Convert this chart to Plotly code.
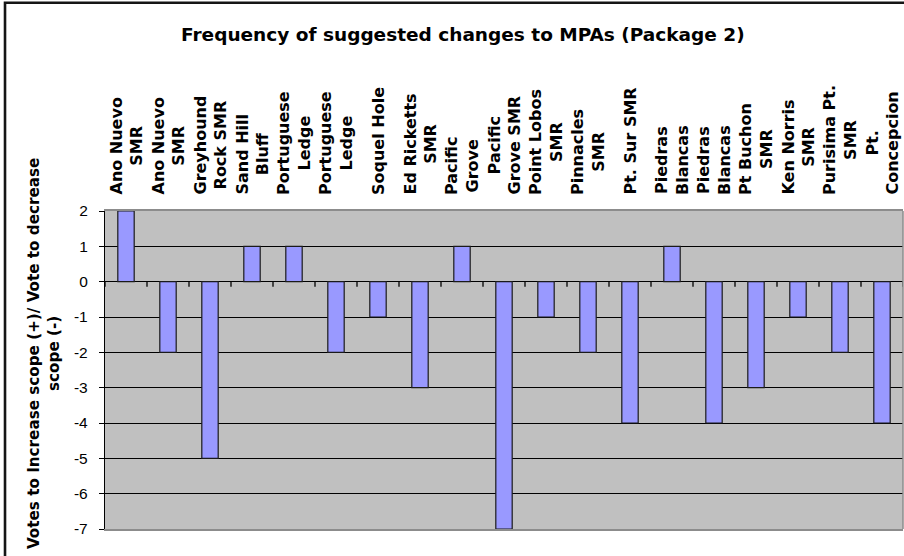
import plotly.graph_objects as go

categories = [
    "Ano Nuevo<br>SMR", "Ano Nuevo<br>SMR", "Greyhound<br>Rock SMR", "Sand Hill<br>Bluff",
    "Portuguese<br>Ledge", "Portuguese<br>Ledge", "Soquel Hole", "Ed Ricketts<br>SMR",
    "Pacific<br>Grove", "Pacific<br>Grove SMR", "Point Lobos<br>SMR", "Pinnacles<br>SMR",
    "Pt. Sur SMR", "Piedras<br>Blancas", "Piedras<br>Blancas", "Pt Buchon<br>SMR",
    "Ken Norris<br>SMR", "Purisima Pt.<br>SMR", "Pt.<br>Concepcion",
]
votes = [2, -2, -5, 1, 1, -2, -1, -3, 1, -7, -1, -2, -4, 1, -4, -3, -1, -2, -4]
y_ticks = [-7, -6, -5, -4, -3, -2, -1, 0, 1, 2]

title_text = "Frequency of suggested changes to MPAs (Package 2)"
y_title = "Votes to Increase scope (+)/ Vote to decrease<br>scope (-)"

BOLD = dict(family="DejaVu Sans", color="black", weight="bold")
idx = list(range(len(categories)))

fig = go.Figure()
fig.add_trace(go.Bar(
    x=idx, y=votes,
    marker=dict(color="#9999FF", line=dict(color="#1a1a1a", width=1.2)),
    width=0.39,
    hoverinfo="skip",
))

# category labels above the plot area
for i, lab in zip(idx, categories):
    fig.add_annotation(
        x=i, xref="x", y=1, yref="paper", yanchor="bottom", xanchor="center",
        yshift=14, text=lab, textangle=-90, showarrow=False, align="center",
        font=dict(size=16, **BOLD),
    )

# y-axis title
fig.add_annotation(
    x=0, xref="paper", xshift=-61, xanchor="center",
    y=0.55, yref="paper", yanchor="middle",
    text=y_title, textangle=-90, showarrow=False, align="center",
    font=dict(size=15.2, **BOLD),
)

shapes = []
# tick marks along the zero line at category boundaries
for b in range(len(categories) + 1):
    shapes.append(dict(
        type="line", xref="x", x0=b - 0.5, x1=b - 0.5,
        yref="y", ysizemode="pixel", yanchor=0, y0=0, y1=-5,
        line=dict(color="black", width=1.3),
    ))
# right border of plot area
shapes.append(dict(type="line", xref="paper", yref="paper", x0=1, x1=1, y0=0, y1=1,
                   line=dict(color="#8c8c8c", width=1.5)))
# chart area border
shapes.append(dict(type="rect", xref="paper", yref="paper",
                   x0=-0.1253, x1=1.02, y0=-0.15, y1=1.655,
                   line=dict(color="#151515", width=2.6), fillcolor="rgba(0,0,0,0)",
                   layer="above"))

fig.update_layout(
    width=904, height=556,
    margin=dict(l=105, r=1, t=211, b=27),
    paper_bgcolor="white",
    plot_bgcolor="#C0C0C0",
    showlegend=False,
    title=dict(text=title_text, x=0.512, xanchor="center", y=1 - 35 / 556,
               yanchor="middle", font=dict(size=18.5, **BOLD)),
    xaxis=dict(range=[-0.5, len(categories) - 0.5], showticklabels=False,
               showgrid=False, zeroline=False, ticks="",
               showline=True, linecolor="#8c8c8c", linewidth=1.5, mirror=True),
    yaxis=dict(range=[-7, 2], tickvals=y_ticks, ticktext=[str(v) for v in y_ticks],
               showgrid=True, gridcolor="black", gridwidth=1,
               zeroline=False, showline=True, linecolor="black", linewidth=1.3,
               ticks="outside", ticklen=5, tickcolor="black", tickwidth=1.3,
               ticklabelstandoff=8,
               tickfont=dict(family="Liberation Sans", size=15.5, color="black")),
    shapes=shapes,
)

fig.write_html("out.html", config={"displayModeBar": False},
               post_script="document.body.style.margin='0px';document.body.style.overflow='hidden';")
